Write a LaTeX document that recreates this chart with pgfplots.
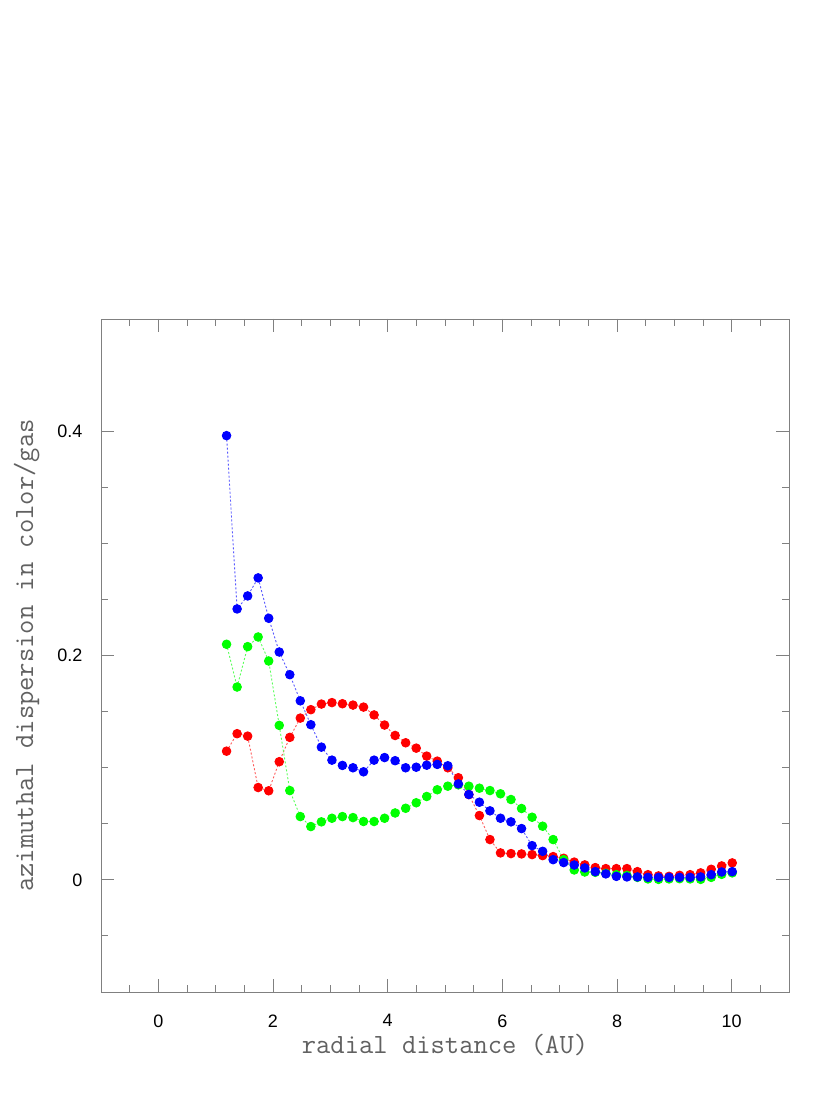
\documentclass[border=0pt]{standalone}
\usepackage{fontspec}
\setmainfont{Liberation Sans}
\usepackage{pgfplots}
\usepackage{pgfplotstable}
\pgfplotsset{compat=1.18}
\pgfplotstableread{
x r g b
1.190 0.1147 0.2100 0.3960
1.374 0.1303 0.1719 0.2415
1.558 0.1281 0.2079 0.2531
1.741 0.0823 0.2165 0.2692
1.925 0.0794 0.1951 0.2332
2.109 0.1053 0.1377 0.2031
2.293 0.1270 0.0796 0.1829
2.476 0.1442 0.0564 0.1596
2.660 0.1517 0.0475 0.1383
2.844 0.1567 0.0517 0.1183
3.028 0.1580 0.0549 0.1067
3.211 0.1570 0.0564 0.1020
3.395 0.1558 0.0555 0.0999
3.579 0.1540 0.0520 0.0963
3.763 0.1470 0.0520 0.1067
3.946 0.1380 0.0549 0.1090
4.130 0.1287 0.0596 0.1062
4.314 0.1222 0.0638 0.0999
4.498 0.1174 0.0687 0.1004
4.681 0.1103 0.0743 0.1022
4.865 0.1058 0.0803 0.1029
5.049 0.0999 0.0835 0.1017
5.233 0.0910 0.0847 0.0855
5.416 0.0760 0.0835 0.0761
5.600 0.0573 0.0817 0.0692
5.784 0.0359 0.0796 0.0615
5.968 0.0240 0.0767 0.0549
6.151 0.0234 0.0716 0.0517
6.335 0.0231 0.0636 0.0457
6.519 0.0225 0.0558 0.0305
6.703 0.0216 0.0478 0.0254
6.886 0.0207 0.0359 0.0180
7.070 0.0192 0.0180 0.0154
7.254 0.0158 0.0088 0.0132
7.438 0.0133 0.0070 0.0106
7.621 0.0109 0.0067 0.0073
7.805 0.0100 0.0058 0.0053
7.989 0.0100 0.0046 0.0031
8.173 0.0100 0.0040 0.0026
8.356 0.0073 0.0022 0.0026
8.540 0.0046 0.0008 0.0022
8.724 0.0035 0.0004 0.0022
8.908 0.0031 0.0008 0.0022
9.091 0.0040 0.0010 0.0022
9.275 0.0046 0.0008 0.0022
9.459 0.0062 0.0004 0.0026
9.643 0.0094 0.0022 0.0046
9.826 0.0124 0.0049 0.0070
10.010 0.0151 0.0062 0.0073
}\datatable
\begin{document}
\begin{tikzpicture}
\path[use as bounding box] (0,0) rectangle (830pt,1111pt);
\begin{axis}[
  at={(101pt,119pt)}, anchor=south west,
  width=688pt, height=673pt, scale only axis,
  xmin=-1, xmax=11, ymin=-0.1, ymax=0.5,
  xtick={0,2,...,10},
  ytick={0,0.2,0.4},
  minor xtick={-0.5,0,...,10.5},
  minor ytick={-0.05,0,0.05,...,0.45},
  major tick length=13pt, minor tick length=7pt,
  every tick/.style={gray, line width=0.9pt},
  axis line style={gray, line width=0.9pt},
  tick align=inside,
  /pgf/number format/assume math mode=true,
  ticklabel style={font=\fontsize{18}{21}\selectfont},
  xticklabel style={yshift=-19pt},
  yticklabel style={xshift=-15pt},
  yticklabel={\pgfmathprintnumber[fixed,precision=1]{\tick}},
  xlabel={radial distance (AU)},
  ylabel={azimuthal dispersion in color/gas},
  label style={font=\ttfamily\fontsize{27.8}{32}\selectfont, text=black!62, inner sep=0pt},
  xlabel style={at={(axis description cs:0.5,-0.0921)}, anchor=base},
  ylabel style={at={(axis description cs:-0.0988,0.5)}, anchor=base, rotate=0},
  clip=false,
]
\addplot[red!65, line width=0.9pt, dash pattern=on 2pt off 2pt,
  mark=*, mark size=4.3pt, mark options={solid, fill=red, draw=red}]
  table[x=x, y=r] {\datatable};
\addplot[green!65, line width=0.9pt, dash pattern=on 2pt off 2pt,
  mark=*, mark size=4.3pt, mark options={solid, fill=green, draw=green}]
  table[x=x, y=g] {\datatable};
\addplot[blue!65, line width=0.9pt, dash pattern=on 2pt off 2pt,
  mark=*, mark size=4.3pt, mark options={solid, fill=blue, draw=blue}]
  table[x=x, y=b] {\datatable};
\end{axis}
\end{tikzpicture}
\end{document}
